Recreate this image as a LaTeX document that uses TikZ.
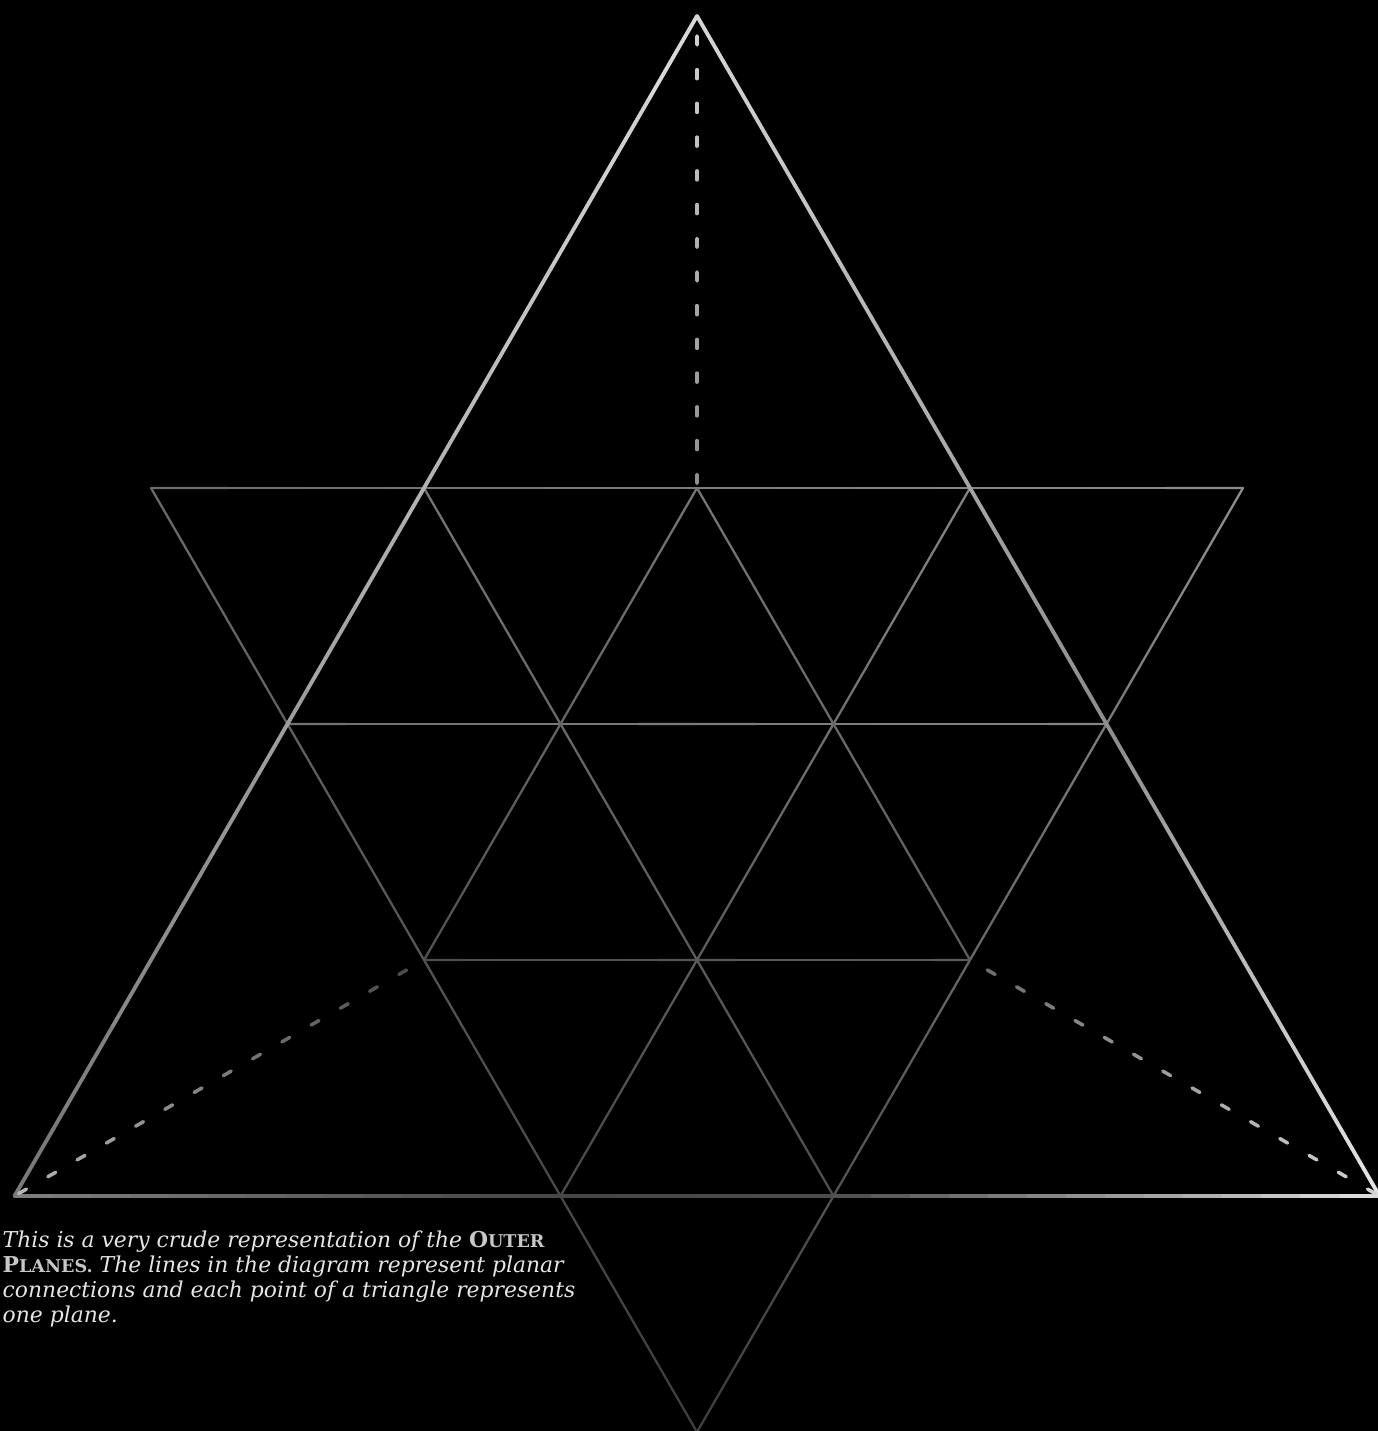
\documentclass[tikz,border=0pt]{standalone}
\usepackage{fontspec}
\newfontfamily\notefont{DejaVu Serif}
\usepackage{tikz}
\usetikzlibrary{calc}

% line whose grey level runs from #4 at (#2) to #5 at (#3)
\newcommand{\fadeline}[5][]{%
  \foreach \k in {1,...,14}{%
    \pgfmathsetmacro\g{#4+(#5-#4)*(\k-0.5)/14}%
    \definecolor{segcol}{gray}{\g}%
    \draw[#1, draw=segcol] ($(#2)!{(\k-1)/14}!(#3)$) -- ($(#2)!{\k/14}!(#3)$);%
  }%
}
\newcommand{\planesc}[2]{{\bfseries\upshape\color{scgrey}#1{\fontsize{5}{7.2}\selectfont #2}}}
\definecolor{scgrey}{gray}{0.78}
\definecolor{notegrey}{gray}{0.9}

\begin{document}
\begin{tikzpicture}[
    outer/.style={line width=1.1pt, line cap=round},
    grid/.style={line width=0.65pt, line cap=round},
    link/.style={line width=1pt, line cap=round, dash pattern=on 0.09cm off 0.2477cm, dash phase=0.1377cm},
    note/.style={font=\notefont\itshape\fontsize{6.22}{7.15}\selectfont, text=notegrey, align=left, inner sep=0pt}
]

% Page
\useasboundingbox (0,0) rectangle (13.78,14.31);
\fill[black] (0,0) rectangle (13.78,14.31);

% Points
\coordinate (top) at (6.97,14.15);
\coordinate (bot) at (6.97,-0.01);
\coordinate (bl) at (0.145,2.35);
\coordinate (b1) at (5.605,2.35);
\coordinate (b2) at (8.335,2.35);
\coordinate (br) at (13.795,2.35);
\coordinate (c1) at (4.24,4.71);
\coordinate (c2) at (6.97,4.71);
\coordinate (c3) at (9.70,4.71);
\coordinate (d1) at (2.875,7.07);
\coordinate (d2) at (5.605,7.07);
\coordinate (d3) at (8.335,7.07);
\coordinate (d4) at (11.065,7.07);
\coordinate (e0) at (1.51,9.43);
\coordinate (e1) at (4.24,9.43);
\coordinate (e2) at (6.97,9.43);
\coordinate (e3) at (9.70,9.43);
\coordinate (e4) at (12.43,9.43);

% Inverted triangle
\fadeline[grid]{e0}{e4}{0.42}{0.55}
\fadeline[grid]{e0}{bot}{0.42}{0.24}
\fadeline[grid]{e4}{bot}{0.56}{0.24}

% Inner lines
\fadeline[grid]{d1}{d4}{0.44}{0.52}
\fadeline[grid]{c1}{c3}{0.3}{0.36}
\fadeline[grid]{e1}{b2}{0.46}{0.3}
\fadeline[grid]{e3}{b1}{0.52}{0.28}
\fadeline[grid]{e2}{c1}{0.46}{0.32}
\fadeline[grid]{e2}{c3}{0.46}{0.36}

% Outer triangle
\fadeline[outer]{bl}{b1}{0.5}{0.27}
\fadeline[outer]{b1}{b2}{0.27}{0.3}
\fadeline[outer]{b2}{br}{0.3}{0.88}
\fadeline[outer]{top}{bl}{0.86}{0.46}
\fadeline[outer]{top}{d4}{0.84}{0.55}
\fadeline[outer]{d4}{br}{0.55}{0.9}

% Planar connections
\fadeline[link]{top}{e2}{0.82}{0.55}
\fadeline[link]{c1}{bl}{0.28}{0.72}
\fadeline[link]{c3}{br}{0.42}{0.84}

% Caption
\node[note, anchor=north west] (caption) at (0.02,2.01) {This is a very crude representation of the \planesc{O}{UTER}\\
\planesc{P}{LANES.} The lines in the diagram represent planar\\
connections and each point of a triangle represents\\
one plane.};

\end{tikzpicture}
\end{document}
